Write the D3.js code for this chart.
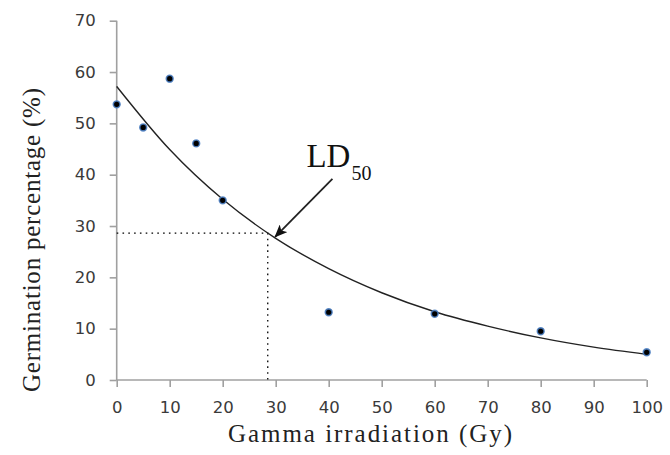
<!DOCTYPE html>
<html>
<head>
<meta charset="utf-8">
<script src="https://cdn.jsdelivr.net/npm/d3@7"></script>
<style>
  body { margin: 0; background: #fff; }
  svg { display: block; }
</style>
</head>
<body>
<svg width="670" height="455"></svg>
<script>
// measured points
const doses = [0, 5, 10, 15, 20, 40, 60, 80, 100];
const germination = [53.7, 49.2, 58.7, 46.1, 35.0, 13.2, 12.9, 9.5, 5.4];

// trend line
const trendDoses = [0, 10, 20, 30, 40, 50, 60, 70, 80, 90, 100];
const trendValues = [57.2, 44.9, 35.2, 27.6, 21.7, 17.0, 13.3, 10.5, 8.2, 6.4, 5.0];

const xTicks = [0, 10, 20, 30, 40, 50, 60, 70, 80, 90, 100];
const yTicks = [0, 10, 20, 30, 40, 50, 60, 70];

const ld50Dose = 28.5, ld50Value = 28.6;

const svg = d3.select("svg"),
    margin = { top: 20.7, right: 23.3, bottom: 75, left: 116.7 },
    width = +svg.attr("width") - margin.left - margin.right,
    height = +svg.attr("height") - margin.top - margin.bottom;

const x = d3.scaleLinear().domain([0, 100]).range([0, width]),
    y = d3.scaleLinear().domain([0, 70]).range([height, 0]),
    g = svg.append("g").attr("transform", `translate(${margin.left},${margin.top})`);

const axisColor = "#a0a0a0", tickText = "#3a3a3a";

// Y axis
const yAxis = g.append("g")
    .call(d3.axisLeft(y).tickValues(yTicks).tickSize(7).tickPadding(14));
yAxis.select(".domain").attr("stroke", axisColor).attr("stroke-width", 1.6)
    .attr("d", `M0,${y(70)}V${y(0)}`);
yAxis.selectAll(".tick line").attr("stroke", axisColor).attr("stroke-width", 1.6);
yAxis.selectAll("text")
    .attr("font-family", "DejaVu Sans, Verdana, sans-serif")
    .attr("font-size", "16.5px")
    .attr("fill", tickText);

// X axis
const xAxis = g.append("g")
    .attr("transform", `translate(0,${height})`)
    .call(d3.axisBottom(x).tickValues(xTicks).tickSize(7).tickPadding(14));
xAxis.select(".domain").attr("stroke", axisColor).attr("stroke-width", 1.6)
    .attr("d", `M${x(0)},0H${x(100)}`);
xAxis.selectAll(".tick line").attr("stroke", axisColor).attr("stroke-width", 1.6);
xAxis.selectAll("text")
    .attr("font-family", "DejaVu Sans, Verdana, sans-serif")
    .attr("font-size", "16.5px")
    .attr("fill", tickText);

// LD50 guide lines (dotted)
g.append("path")
    .attr("d", `M${x(0)},${y(ld50Value)}H${x(ld50Dose)}V${y(0)}`)
    .attr("fill", "none")
    .attr("stroke", "#000")
    .attr("stroke-width", 1.3)
    .attr("stroke-dasharray", "1.6,4.2");

// trend line
const line = d3.line()
    .x((d, i) => x(trendDoses[i]))
    .y(d => y(d))
    .curve(d3.curveMonotoneX);
g.append("path")
    .datum(trendValues)
    .attr("d", line)
    .attr("fill", "none")
    .attr("stroke", "#222")
    .attr("stroke-width", 1.4);

// points
g.selectAll("circle")
    .data(germination)
    .join("circle")
    .attr("cx", (d, i) => x(doses[i]))
    .attr("cy", d => y(d))
    .attr("r", 3.4)
    .attr("fill", "#000")
    .attr("stroke", "#4a7fc4")
    .attr("stroke-width", 1.6)
    .attr("stroke-opacity", 0.85);

// arrow to LD50
svg.append("defs").append("marker")
    .attr("id", "head")
    .attr("viewBox", "0 0 12 10")
    .attr("refX", 11).attr("refY", 5)
    .attr("markerWidth", 13).attr("markerHeight", 11)
    .attr("markerUnits", "userSpaceOnUse")
    .attr("orient", "auto")
    .append("path")
    .attr("d", "M0,0L12,5L0,10L3,5Z")
    .attr("fill", "#111");

g.append("line")
    .attr("x1", x(40.7)).attr("y1", y(39.2))
    .attr("x2", x(29.9)).attr("y2", y(27.9))
    .attr("stroke", "#222")
    .attr("stroke-width", 1.8)
    .attr("marker-end", "url(#head)");

const ld = g.append("text")
    .attr("x", x(35.8))
    .attr("y", y(41.5))
    .attr("font-family", "Liberation Serif, Times New Roman, serif")
    .attr("font-size", "33px")
    .attr("fill", "#111");
ld.append("tspan").text("LD");
ld.append("tspan").attr("dx", 1).attr("dy", 13.5).attr("font-size", "20px").text("50");

// axis titles
svg.append("text")
    .attr("x", 370)
    .attr("y", 442)
    .attr("text-anchor", "middle")
    .attr("font-family", "Liberation Serif, Times New Roman, serif")
    .attr("font-size", "25px")
    .attr("textLength", 284)
    .attr("lengthAdjust", "spacing")
    .attr("fill", "#222")
    .text("Gamma irradiation (Gy)");

svg.append("text")
    .attr("transform", `translate(40,${240}) rotate(-90)`)
    .attr("text-anchor", "middle")
    .attr("font-family", "Liberation Serif, Times New Roman, serif")
    .attr("font-size", "25px")
    .attr("textLength", 304)
    .attr("lengthAdjust", "spacing")
    .attr("fill", "#222")
    .text("Germination percentage (%)");
</script>
</body>
</html>
